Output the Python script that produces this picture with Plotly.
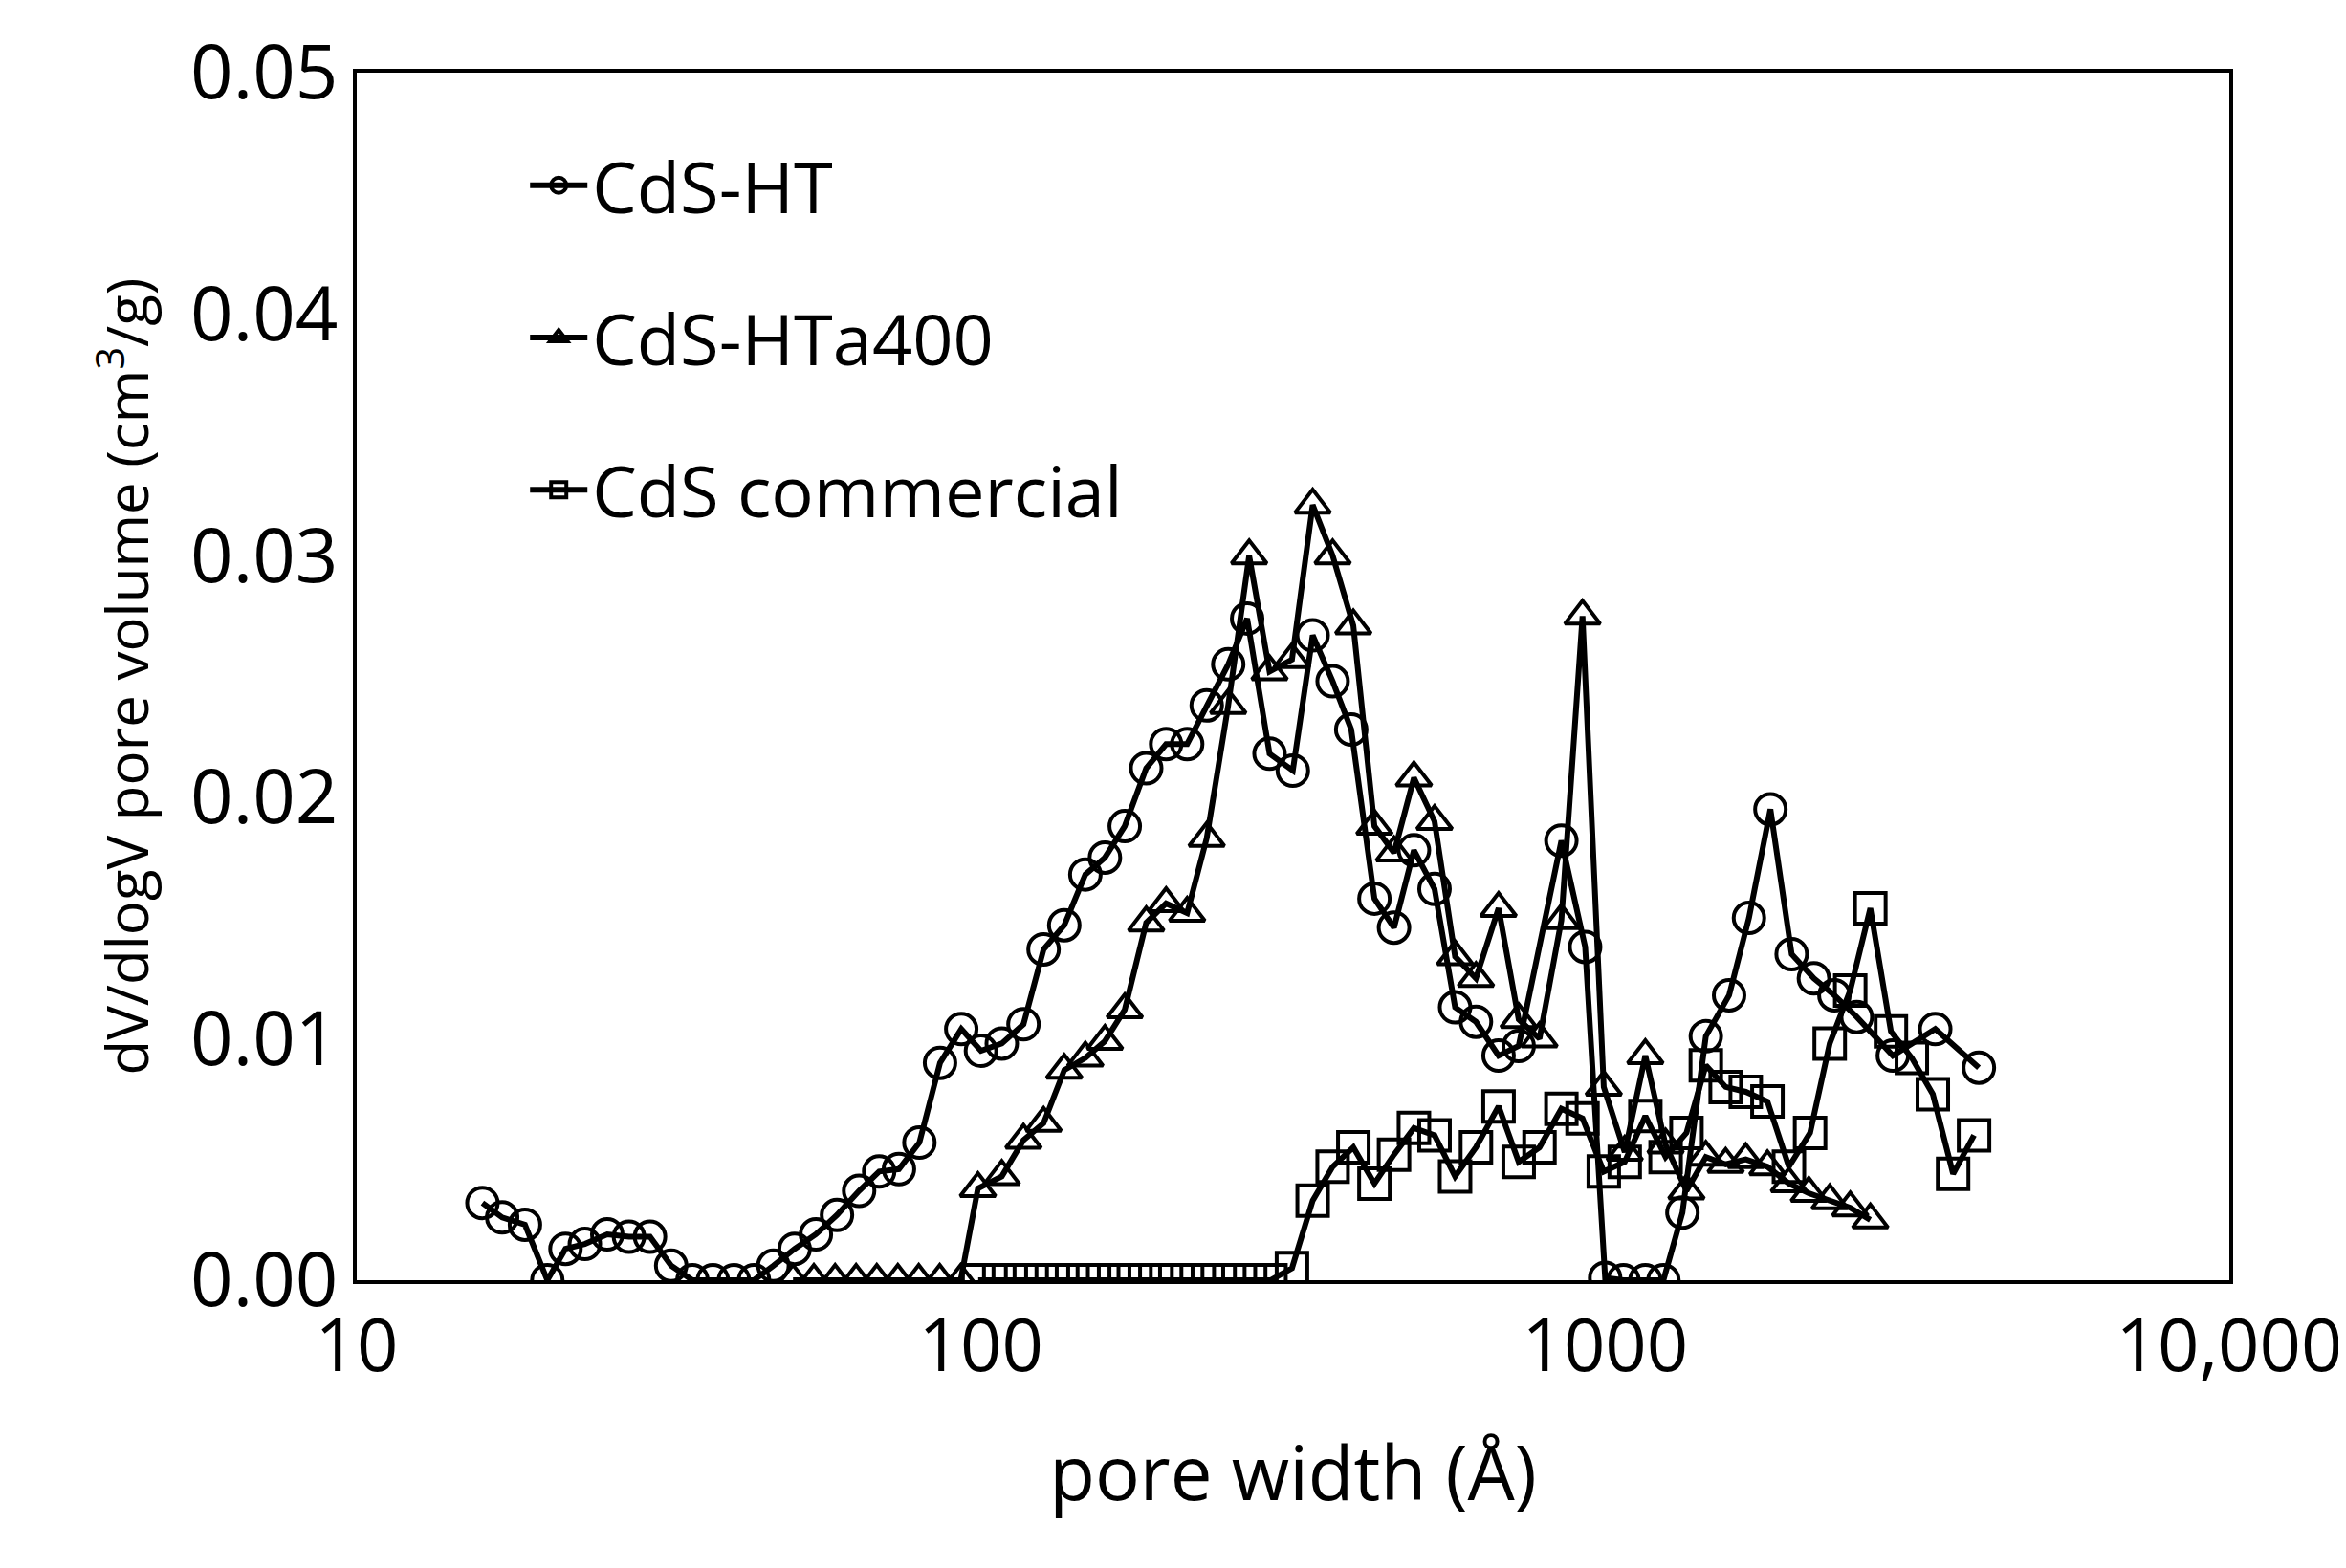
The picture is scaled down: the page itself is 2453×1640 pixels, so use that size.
import plotly.graph_objects as go

# CdS-HT (circles)
ht_x = [15.9, 17.1, 18.6, 20.2, 21.6, 23.2, 25.2, 27.3, 29.5, 31.9, 34.5, 37.2, 40.2, 43.3,
        46.5, 50.3, 54.4, 58.8, 63.8, 68.7, 73.9, 79.7, 86.0, 93.0, 100, 108, 117, 126, 136,
        147, 158, 170, 184, 198, 214, 230, 249, 267, 290, 316, 340, 366, 392, 427, 459, 494,
        533, 575, 621, 675, 727, 851, 929, 1000, 1070, 1160, 1240, 1330, 1450, 1580, 1700,
        1840, 1990, 2160, 2330, 2530, 2890, 3380, 3970]
ht_y = [0.0032, 0.0026, 0.0023, 0.0, 0.0013, 0.0015, 0.0019, 0.0018, 0.0018, 0.0006, 0.0, 0.0,
        0.0, 0.0, 0.0006, 0.0013, 0.0019, 0.0027, 0.0037, 0.0045, 0.0046, 0.0057, 0.0090, 0.0104,
        0.0095, 0.0098, 0.0106, 0.0137, 0.0147, 0.0168, 0.0175, 0.0188, 0.0212, 0.0222, 0.0222,
        0.0238, 0.0255, 0.0274, 0.0218, 0.0211, 0.0267, 0.0248, 0.0228, 0.0158, 0.0146, 0.0178,
        0.0162, 0.0113, 0.0107, 0.0093, 0.0097, 0.0182, 0.0138, 0.0001, 0.0, 0.0, 0.0, 0.0028,
        0.0101, 0.0118, 0.0150, 0.0195, 0.0135, 0.0125, 0.0118, 0.0109, 0.0093, 0.0104, 0.0088]

# CdS-HTa400 (triangles)
hta_x = [50.0, 54.0, 58.4, 63.1, 68.1, 73.6, 79.5, 85.9, 92.8, 98.9, 108, 117, 126, 136, 147,
         158, 170, 184, 198, 214, 230, 249, 269, 290, 315, 340, 366, 395, 427, 459, 494, 533,
         575, 621, 675, 727, 785, 851, 920, 995, 1075, 1160, 1250, 1350, 1450, 1560, 1680,
         1820, 1970, 2120, 2290, 2470, 2660]
hta_y = [0.0, 0.0, 0.0, 0.0, 0.0, 0.0, 0.0, 0.0, 0.0, 0.0038, 0.0043, 0.0058, 0.0065, 0.0087,
         0.0092, 0.0099, 0.0112, 0.0148, 0.0156, 0.0152, 0.0183, 0.0238, 0.0300, 0.0252, 0.0257,
         0.0321, 0.0300, 0.0271, 0.0188, 0.0177, 0.0208, 0.0190, 0.0134, 0.0125, 0.0154, 0.0108,
         0.0100, 0.0149, 0.0275, 0.0080, 0.0053, 0.0093, 0.0056, 0.0037, 0.0051, 0.0048, 0.0050,
         0.0047, 0.0040, 0.0036, 0.0033, 0.0030, 0.0025]

# CdS commercial (squares)
com_x = [99.0, 107, 116, 125, 135, 146, 157, 170, 183, 198, 214, 231, 250, 270, 291, 315,
         340, 366, 395, 427, 459, 494, 533, 575, 621, 675, 727, 785, 851, 920, 995, 1075,
         1160, 1250, 1350, 1450, 1560, 1680, 1820, 1970, 2130, 2290, 2470, 2660, 2870, 3100,
         3350, 3610, 3900]
com_y = [0.0, 0.0, 0.0, 0.0, 0.0, 0.0, 0.0, 0.0, 0.0, 0.0, 0.0, 0.0, 0.0, 0.0, 0.0, 0.0005,
         0.0033, 0.0047, 0.0055, 0.0040, 0.0052, 0.0063, 0.0060, 0.0043, 0.0055, 0.0072, 0.0049,
         0.0055, 0.0071, 0.0067, 0.0045, 0.0049, 0.0068, 0.0051, 0.0061, 0.0089, 0.0080, 0.0078,
         0.0074, 0.0047, 0.0061, 0.0098, 0.0120, 0.0154, 0.0103, 0.0092, 0.0077, 0.0044, 0.0060]

series = [("CdS-HT", ht_x, ht_y, "circle-open"),
          ("CdS-HTa400", hta_x, hta_y, "triangle-up-open"),
          ("CdS commercial", com_x, com_y, "square-open")]

fig = go.Figure()
for name, xs, ys, sym in series:
    fig.add_trace(go.Scatter(
        x=xs, y=ys, name=name, legendgroup=name, mode="lines+markers",
        line=dict(color="black", width=6),
        marker=dict(symbol=sym, size=32, color="black", line=dict(width=4)),
    ))

font = "Open Sans, DejaVu Sans, sans-serif"
fig.update_layout(
    width=2453, height=1640,
    paper_bgcolor="white", plot_bgcolor="white",
    margin=dict(l=365, r=122, t=58, b=309),
    font=dict(family=font, size=70, color="black"),
    legend=dict(x=0.09, y=0.95, xanchor="left", yanchor="top",
                font=dict(size=74), tracegroupgap=60, itemwidth=60,
                bgcolor="rgba(0,0,0,0)"),
    xaxis=dict(type="log", range=[1, 4],
               tickvals=[10, 100, 1000, 10000], ticktext=["10", "100", "1000", "10,000"],
               showgrid=False, showline=True, linecolor="black", linewidth=4, mirror=True,
               ticks="", tickfont=dict(size=76),
               title=dict(text="pore width (Å)", font=dict(size=78), standoff=60)),
    yaxis=dict(range=[0, 0.05], dtick=0.01, tickformat=".2f",
               showgrid=False, showline=True, linecolor="black", linewidth=4, mirror=True,
               ticks="", zeroline=False, tickfont=dict(size=78),
               title=dict(text="dV/dlogV pore volume (cm<sup>3</sup>/g)", font=dict(size=60),
                          standoff=25)),
)

fig.write_html("out.html")
